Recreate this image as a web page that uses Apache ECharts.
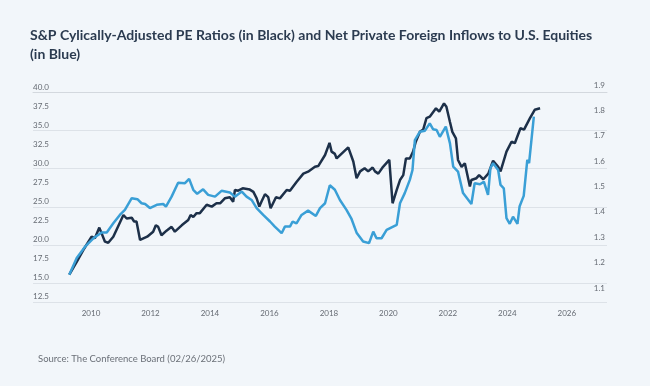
<!DOCTYPE html>
<html>
<head>
<meta charset="utf-8">
<script src="https://cdn.jsdelivr.net/npm/echarts@6/dist/echarts.min.js"></script>
<style>
html,body{margin:0;padding:0;background:#f2f6fa;}
#chart{width:650px;height:386px;}
</style>
</head>
<body>
<div id="chart"></div>
<script>
// Shiller CAPE (left axis) — decimal years and values
var peDates = [2009.27,2009.52,2009.74,2010.02,2010.13,2010.28,2010.47,2010.58,2010.75,2011.09,2011.2,2011.37,2011.45,2011.53,2011.65,2011.7,2011.89,2012.09,2012.18,2012.26,2012.37,2012.54,2012.71,2012.82,2013.05,2013.27,2013.35,2013.44,2013.55,2013.66,2013.89,2014.06,2014.22,2014.34,2014.5,2014.67,2014.78,2014.84,2014.95,2015.1,2015.34,2015.46,2015.57,2015.66,2015.73,2015.85,2015.96,2016.04,2016.1,2016.22,2016.35,2016.58,2016.69,2016.91,2017.14,2017.3,2017.53,2017.64,2017.87,2018.02,2018.09,2018.2,2018.26,2018.65,2018.82,2018.93,2019.05,2019.2,2019.32,2019.47,2019.55,2019.66,2019.82,2020.03,2020.14,2020.28,2020.39,2020.5,2020.59,2020.72,2020.83,2020.92,2021.06,2021.17,2021.28,2021.39,2021.6,2021.71,2021.87,2021.95,2022.07,2022.15,2022.27,2022.34,2022.46,2022.57,2022.74,2022.79,2022.96,2023.05,2023.19,2023.36,2023.52,2023.69,2023.77,2023.97,2024.14,2024.25,2024.44,2024.56,2024.76,2024.92,2025.1];
var peValues = [15.3,17.0,18.55,20.3,20.1,21.5,19.65,19.5,20.3,23.16,22.7,22.8,22.3,22.3,19.87,19.65,20.3,20.96,21.8,21.6,20.5,21.1,21.6,20.96,21.8,22.5,23.16,22.9,23.4,23.4,24.5,24.26,24.7,24.7,25.35,25.5,24.9,26.45,26.36,26.67,26.5,26.2,25.35,24.26,24.9,25.9,25.5,24.04,23.9,25.5,25.35,26.45,26.36,27.5,28.6,28.86,29.5,29.6,31.05,32.65,31.5,31.2,30.6,32.06,30.2,28.0,28.9,29.3,28.9,29.4,28.9,28.6,29.5,30.4,24.7,26.45,27.76,28.4,30.6,30.6,31.5,32.8,34.1,34.4,35.9,36.1,37.2,36.75,37.85,37.4,35.4,34.1,33.25,30.4,29.5,29.96,26.9,27.76,28.0,28.4,27.86,28.6,30.3,29.5,28.9,31.5,32.8,32.6,34.57,34.4,35.9,37.0,37.2];

// Net private foreign inflows to U.S. equities (right axis)
var flowDates = [2009.27,2009.52,2009.8,2010.08,2010.36,2010.53,2010.75,2010.97,2011.14,2011.37,2011.56,2011.7,2011.82,2011.98,2012.21,2012.43,2012.52,2012.71,2012.93,2013.16,2013.3,2013.44,2013.57,2013.77,2013.94,2014.17,2014.39,2014.67,2014.84,2015.07,2015.23,2015.4,2015.57,2015.79,2016.02,2016.18,2016.41,2016.52,2016.69,2016.78,2016.91,2017.08,2017.3,2017.56,2017.7,2017.87,2018.03,2018.2,2018.37,2018.59,2018.76,2018.93,2019.15,2019.35,2019.49,2019.6,2019.77,2019.94,2020.16,2020.28,2020.39,2020.55,2020.72,2020.81,2020.89,2021.06,2021.23,2021.39,2021.5,2021.62,2021.73,2021.93,2022.07,2022.18,2022.34,2022.51,2022.79,2022.9,2023.08,2023.21,2023.35,2023.43,2023.52,2023.69,2023.77,2023.88,2023.97,2024.08,2024.19,2024.34,2024.41,2024.55,2024.67,2024.73,2024.89];
var flowValues = [1.152,1.218,1.263,1.296,1.319,1.319,1.355,1.388,1.408,1.454,1.45,1.434,1.431,1.415,1.428,1.431,1.421,1.46,1.515,1.513,1.53,1.487,1.471,1.489,1.467,1.46,1.483,1.476,1.46,1.48,1.46,1.447,1.415,1.388,1.362,1.342,1.316,1.342,1.342,1.362,1.355,1.388,1.405,1.384,1.415,1.434,1.505,1.487,1.447,1.408,1.372,1.318,1.283,1.277,1.322,1.296,1.296,1.329,1.342,1.349,1.434,1.474,1.526,1.565,1.683,1.716,1.72,1.749,1.726,1.723,1.696,1.736,1.67,1.578,1.559,1.474,1.431,1.513,1.509,1.519,1.467,1.572,1.592,1.565,1.506,1.493,1.375,1.353,1.381,1.353,1.421,1.463,1.605,1.592,1.775];

var yearLabels = [2010,2012,2014,2016,2018,2020,2022,2024,2026];
var leftTicks = [12.5,40];   // min/max of left axis, step 2.5
var rightTicks = [1.1,1.9];  // min/max of right axis, step 0.1

function pairs(xs, ys){ var out=[]; for (var i=0;i<xs.length;i++) out.push([xs[i], ys[i]]); return out; }

var X_MIN = 2008.05, X_MAX = 2027.35;
var labelColor = '#666b73';
var font = 'Lato';

var chart = echarts.init(document.getElementById('chart'), null, {renderer:'canvas'});
chart.setOption({
  backgroundColor: '#f2f6fa',
  animation: false,
  textStyle: {fontFamily: font},
  title: [{
    text: 'S&P Cylically-Adjusted PE Ratios (in Black) and Net Private Foreign Inflows to U.S. Equities\n(in Blue)',
    left: 25, top: 21,
    textStyle: {fontFamily: font, fontSize: 14, fontWeight: 'bold', color: '#2b3b50', lineHeight: 19}
  },{
    text: 'Source: The Conference Board (02/26/2025)',
    left: 33, top: 349,
    textStyle: {fontFamily: font, fontSize: 9.5, fontWeight: 'normal', color: '#6b7078'}
  }],
  grid: [
    {left: 33, right: 43, top: 92, bottom: 84},   // gridlines + x axis
    {left: 33, right: 43, top: 87, bottom: 90},   // left axis (PE)
    {left: 33, right: 43, top: 85, bottom: 98}    // right axis (flows)
  ],
  xAxis: [
    {gridIndex: 0, type: 'value', min: X_MIN, max: X_MAX,
     axisLine: {show: true, lineStyle: {color: '#d3d8de', width: 1}},
     axisTick: {show: false}, splitLine: {show: false},
     axisLabel: {customValues: yearLabels, color: labelColor, fontSize: 8, margin: 7, fontFamily: font,
                 formatter: function(v){ return String(Math.round(v)); }}},
    {gridIndex: 1, type: 'value', min: X_MIN, max: X_MAX, show: false},
    {gridIndex: 2, type: 'value', min: X_MIN, max: X_MAX, show: false}
  ],
  yAxis: [
    {gridIndex: 0, type: 'value', inverse: true, min: 0, max: 5.483, interval: 1,
     axisLine: {show: false}, axisTick: {show: false}, axisLabel: {show: false},
     splitLine: {show: true, lineStyle: {color: '#dde2e8', width: 1}}},
    {gridIndex: 1, type: 'value', position: 'left', min: leftTicks[0], max: leftTicks[1], interval: 2.5,
     axisLine: {show: false}, axisTick: {show: false}, splitLine: {show: false},
     axisLabel: {inside: true, margin: 0, color: labelColor, fontSize: 8, fontFamily: font,
                 formatter: function(v){ return v.toFixed(1); }}},
    {gridIndex: 2, type: 'value', position: 'right', min: rightTicks[0], max: rightTicks[1], interval: 0.1,
     axisLine: {show: false}, axisTick: {show: false}, splitLine: {show: false},
     axisLabel: {inside: true, margin: 2, color: labelColor, fontSize: 8, fontFamily: font,
                 formatter: function(v){ return v.toFixed(1); }}}
  ],
  series: [
    {type: 'line', name: 'CAPE', xAxisIndex: 1, yAxisIndex: 1, data: pairs(peDates, peValues),
     showSymbol: false, lineStyle: {color: '#1d3049', width: 2.5}, z: 3},
    {type: 'line', name: 'Inflows', xAxisIndex: 2, yAxisIndex: 2, data: pairs(flowDates, flowValues),
     showSymbol: false, lineStyle: {color: '#3a9fd6', width: 2.5}, z: 4}
  ]
});
</script>
</body>
</html>
